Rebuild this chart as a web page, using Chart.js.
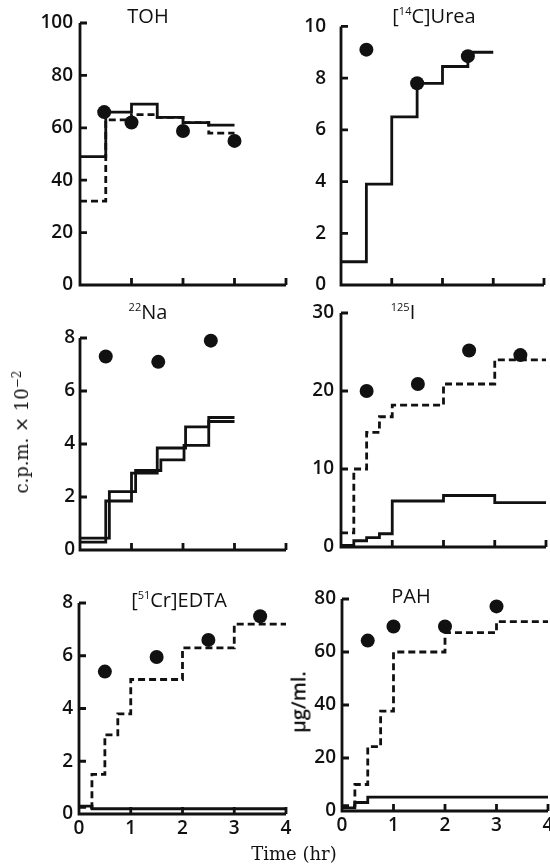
<html>
<head>
<script src="https://cdn.jsdelivr.net/npm/chart.js"></script>
<style>
  html, body { margin: 0; padding: 0; overflow: hidden; background: #fff; }
  body { width: 550px; height: 865px; position: relative; }
  canvas { position: absolute; left: 0; top: 0; }
  .lbl { position: absolute; transform: translate(-50%, -50%); white-space: nowrap; color: #111; }
  .ttl { font-family: "Open Sans", sans-serif; font-size: 20px; font-weight: 500; }
  .ttl sup { font-size: 11px; vertical-align: 8px; }
  .serif { font-family: "DejaVu Serif", serif; font-size: 17px; }
  .rot { transform: translate(-50%, -50%) rotate(-90deg); }
</style>
</head>
<body>

<canvas id="c1" width="600" height="865"></canvas>
<canvas id="c2" width="600" height="865"></canvas>
<canvas id="c3" width="600" height="865"></canvas>
<canvas id="c4" width="600" height="865"></canvas>
<canvas id="c5" width="600" height="865"></canvas>
<canvas id="c6" width="600" height="865"></canvas>

<div class="lbl ttl" style="left:148px; top:15px">TOH</div>
<div class="lbl ttl" style="left:434px; top:15px">[<sup>14</sup>C]Urea</div>
<div class="lbl ttl" style="left:148px; top:311px"><sup>22</sup>Na</div>
<div class="lbl ttl" style="left:403px; top:311px"><sup>125</sup>I</div>
<div class="lbl ttl" style="left:179px; top:599px">[<sup>51</sup>Cr]EDTA</div>
<div class="lbl ttl" style="left:411px; top:595px">PAH</div>

<div class="lbl serif rot" style="left:21px; top:432px; font-size:18px">c.p.m. &times; 10<sup style="font-size:12px">&minus;2</sup></div>
<div class="lbl rot" style="left:298px; top:702px; font-family:'Open Sans',sans-serif; font-size:20px; font-weight:600">&mu;g/ml.</div>
<div class="lbl serif" style="left:294px; top:853px; font-size:18px">Time (hr)</div>

<script>
// ---- data (hr / value) ----
// TOH
const tohStepT = [0, 0.5, 1, 1.5, 2, 2.5, 3];
const tohSolid = [49, 66, 69, 64, 62, 61, 61];
const tohDashed = [32, 63, 65, 64, 62, 58, 58];
const tohPtT = [0.47, 1, 2, 3];
const tohPts = [66, 62, 58.8, 55];

// [14C]Urea
const ureaStepT = [0, 0.5, 1, 1.5, 2, 2.5, 3];
const ureaSolid = [0.9, 3.9, 6.5, 7.8, 8.45, 9.0, 9.0];
const ureaPtT = [0.5, 1.5, 2.5];
const ureaPts = [9.1, 7.8, 8.85];

// 22Na (two solid runs)
const naStepTA = [0, 0.5, 1, 1.5, 2.05, 2.5, 3];
const naSolidA = [0.3, 1.85, 2.9, 3.85, 4.65, 5.0, 5.0];
const naStepTB = [0, 0.57, 1.08, 1.57, 2.02, 2.5, 3];
const naSolidB = [0.45, 2.2, 3.0, 3.4, 3.95, 4.85, 4.85];
const naPtT = [0.5, 1.52, 2.54];
const naPts = [7.3, 7.1, 7.9];

// 125I
const iStepT = [0, 0.25, 0.5, 0.75, 1, 2, 3, 4];
const iDashed = [1.8, 10, 14.7, 16.7, 18.2, 20.9, 24, 24];
const iSolid = [0.2, 0.8, 1.2, 1.7, 5.9, 6.6, 5.7, 5.7];
const iPtT = [0.5, 1.5, 2.5, 3.5];
const iPts = [20, 20.9, 25.2, 24.6];

// [51Cr]EDTA
const edtaStepT = [0, 0.25, 0.5, 0.75, 1, 2, 3, 4];
const edtaDashed = [0.25, 1.5, 3.0, 3.8, 5.1, 6.3, 7.2, 7.2];
const edtaSolidT = [0, 0.25, 4];
const edtaSolid = [0.3, 0.2, 0.2];
const edtaPtT = [0.5, 1.5, 2.5, 3.5];
const edtaPts = [5.4, 5.95, 6.6, 7.5];

// PAH
const pahStepT = [0, 0.25, 0.5, 0.75, 1, 2, 3, 4];
const pahDashed = [2, 10, 24.3, 37.7, 60, 67.3, 71.5, 71.5];
const pahSolidT = [0, 0.25, 0.5, 4];
const pahSolid = [1.2, 3.2, 5.2, 5.2];
const pahPtT = [0.5, 1, 2, 3];
const pahPts = [64.3, 69.6, 69.6, 77.2];

const xTicks = [0, 1, 2, 3, 4];

// ---- helpers ----
const ink = '#111';
const zip = (xs, ys) => xs.map((x, i) => ({x: x, y: ys[i]}));

function solid(xs, ys) {
    return {data: zip(xs, ys), borderColor: ink, borderWidth: 2.8, pointRadius: 0,
            stepped: true, fill: false, clip: false};
}
function dashed(xs, ys) {
    return {data: zip(xs, ys), borderColor: ink, borderWidth: 2.8, borderDash: [7, 4],
            pointRadius: 0, stepped: true, fill: false, clip: false};
}
function dots(xs, ys) {
    return {data: zip(xs, ys), showLine: false, pointRadius: 7, pointBackgroundColor: ink,
            pointBorderWidth: 0, clip: false};
}

// axes with inward ticks, like the printed figure
const inAxes = {
    id: 'inAxes',
    beforeDatasetsDraw(chart) {
        const ctx = chart.ctx, xs = chart.scales.x, ys = chart.scales.y;
        const x0 = xs.getPixelForValue(0), x1 = xs.getPixelForValue(xs.max);
        const y0 = ys.getPixelForValue(0), y1 = ys.getPixelForValue(ys.max);
        ctx.save();
        ctx.strokeStyle = ink;
        ctx.lineWidth = 2.8;
        ctx.beginPath();
        ctx.moveTo(x0, y1);
        ctx.lineTo(x0, y0);
        ctx.lineTo(x1, y0);
        ys.ticks.forEach(t => {
            if (t.value > 0) { const p = ys.getPixelForValue(t.value); ctx.moveTo(x0, p); ctx.lineTo(x0 + 7, p); }
        });
        xs.ticks.forEach(t => {
            if (t.value > 0) { const p = xs.getPixelForValue(t.value); ctx.moveTo(p, y0); ctx.lineTo(p, y0 - 7); }
        });
        ctx.stroke();
        ctx.restore();
    }
};

const tickFont = {family: "'Open Sans', sans-serif", size: 19, weight: '600'};

function panel(id, box, yMax, yStep, gap, showX, datasets) {
    const xh = showX ? 30 : 0;
    new Chart(document.getElementById(id), {
        type: 'line',
        data: {datasets: datasets},
        plugins: [inAxes],
        options: {
            responsive: false,
            animation: false,
            events: [],
            layout: {padding: {left: box.left - 60, top: box.top, right: 600 - box.right,
                               bottom: 865 - box.bottom - xh}},
            plugins: {legend: {display: false}, tooltip: {enabled: false}},
            scales: {
                x: {
                    type: 'linear', min: 0, max: 4,
                    afterBuildTicks: s => { s.ticks = xTicks.map(v => ({value: v})); },
                    afterFit: s => { s.height = xh; },
                    grid: {display: false, drawTicks: false},
                    border: {display: false},
                    ticks: {display: showX, padding: 3, color: ink, font: tickFont, maxRotation: 0}
                },
                y: {
                    type: 'linear', min: 0, max: yMax,
                    afterFit: s => { s.width = 60; },
                    grid: {display: false, drawTicks: false},
                    border: {display: false},
                    ticks: {stepSize: yStep, padding: gap, color: ink, font: tickFont}
                }
            }
        }
    });
}

panel('c1', {left: 80, right: 286, top: 23, bottom: 285}, 100, 20, 7, false, [
    solid(tohStepT, tohSolid), dashed(tohStepT, tohDashed), dots(tohPtT, tohPts)]);

panel('c2', {left: 341, right: 544, top: 20, bottom: 285}, 10, 2, 15, false, [
    solid(ureaStepT, ureaSolid), dots(ureaPtT, ureaPts)]);

panel('c3', {left: 80, right: 286, top: 338, bottom: 550}, 8, 2, 5, false, [
    solid(naStepTA, naSolidA), solid(naStepTB, naSolidB), dots(naPtT, naPts)]);

panel('c4', {left: 341, right: 546, top: 313, bottom: 547}, 30, 10, 7, false, [
    dashed(iStepT, iDashed), solid(iStepT, iSolid), dots(iPtT, iPts)]);

panel('c5', {left: 79, right: 286, top: 603, bottom: 814}, 8, 2, 6, true, [
    dashed(edtaStepT, edtaDashed), solid(edtaSolidT, edtaSolid), dots(edtaPtT, edtaPts)]);

panel('c6', {left: 342, right: 548, top: 599, bottom: 811}, 80, 20, 6, true, [
    dashed(pahStepT, pahDashed), solid(pahSolidT, pahSolid), dots(pahPtT, pahPts)]);
</script>
</body>
</html>
